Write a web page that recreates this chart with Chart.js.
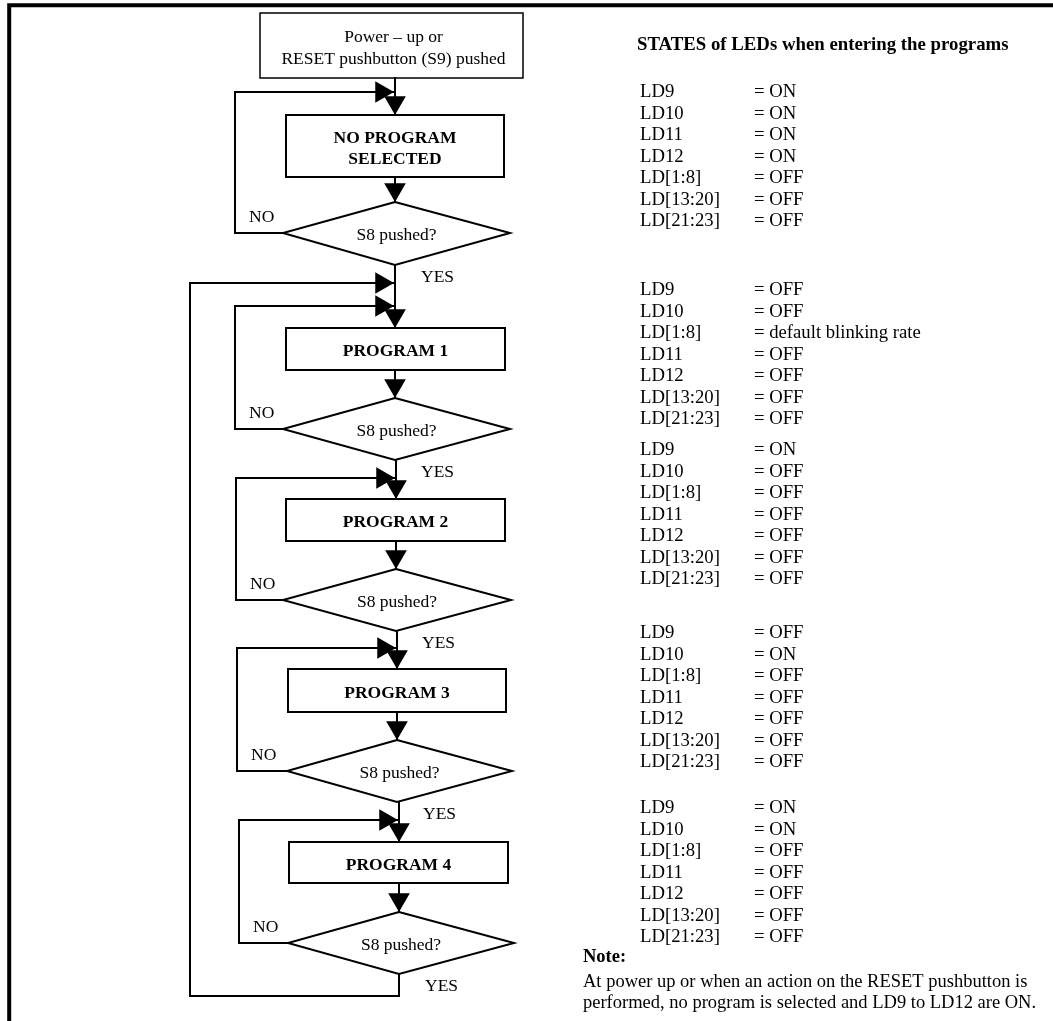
<!DOCTYPE html>
<html>
<head>
<meta charset="utf-8">
<script src="https://cdn.jsdelivr.net/npm/chart.js@4.4.1/dist/chart.umd.min.js"></script>
<style>
  html, body { margin: 0; padding: 0; background: #fff; overflow: hidden; }
  canvas { display: block; }
</style>
</head>
<body>
<canvas id="flowChart" width="1053" height="1021"></canvas>
<script>
// ── Textos ──────────────────────────────────────────────────────────────────
const startLines = ['Power \u2013 up or', 'RESET pushbutton (S9) pushed'];
const stepLabels = [['NO PROGRAM', 'SELECTED'], ['PROGRAM 1'], ['PROGRAM 2'], ['PROGRAM 3'], ['PROGRAM 4']];
const questionLabel = 'S8 pushed?';
const tableTitle = 'STATES of LEDs when entering the programs';

// Estados dos LEDs ao entrar em cada programa
const ledNamesNoProgram = ['LD9', 'LD10', 'LD11', 'LD12', 'LD[1:8]', 'LD[13:20]', 'LD[21:23]'];
const ledNamesProgram   = ['LD9', 'LD10', 'LD[1:8]', 'LD11', 'LD12', 'LD[13:20]', 'LD[21:23]'];
const statesNoProgram = ['ON', 'ON', 'ON', 'ON', 'OFF', 'OFF', 'OFF'];
const statesProgram1  = ['OFF', 'OFF', 'default blinking rate', 'OFF', 'OFF', 'OFF', 'OFF'];
const statesProgram2  = ['ON', 'OFF', 'OFF', 'OFF', 'OFF', 'OFF', 'OFF'];
const statesProgram3  = ['OFF', 'ON', 'OFF', 'OFF', 'OFF', 'OFF', 'OFF'];
const statesProgram4  = ['ON', 'ON', 'OFF', 'OFF', 'OFF', 'OFF', 'OFF'];

const noteTitle = 'Note:';
const noteLines = [
  'At power up or when an action on the RESET pushbutton is',
  'performed, no program is selected and LD9 to LD12 are ON.',
];

// ── Geometria (unidades = pixels da figura) ────────────────────────────────
const W = 1053, H = 1021;
const colX     = [395, 395, 396, 397, 399];   // eixo vertical de cada etapa
const boxLeft  = [286, 286, 286, 288, 289];
const boxRight = [504, 505, 505, 506, 508];
const boxTop   = [115, 328, 499, 669, 842];
const boxBot   = [177, 370, 541, 712, 883];
const dTop     = [202, 398, 569, 740, 912];
const dMid     = [233, 429, 600, 771, 943];
const dBot     = [265, 460, 631, 802, 974];
const dLeft    = [283, 283, 283, 287, 288];
const dRight   = [510, 510, 511, 512, 514];
const loopX    = [235, 235, 236, 237, 239];
const loopY    = [92, 306, 478, 648, 820];
const startBox = { l: 260, r: 523, t: 13, b: 78 };
const outerLoop = { x: 190, y: 283, bottom: 996 };

const tableX = { title: 637, name: 640, value: 754, note: 583 };
const blockBaseY = [97, 295, 455, 638, 813];
const ROW_STEP = 21.5;

const ARROW_R = 12.5;
const SERIF = '"Liberation Serif", "Times New Roman", serif';

// ── Montagem dos datasets ──────────────────────────────────────────────────

function line(points, width = 2) {
  return {
    type: 'scatter',
    data: points.map(([x, y]) => ({ x, y })),
    showLine: true,
    borderColor: '#000',
    borderWidth: width,
    borderJoinStyle: 'miter',
    borderCapStyle: 'square',
    pointRadius: 0,
    tension: 0,
    clip: false,
  };
}

const datasets = [];
const arrowsDown = [];
const arrowsRight = [];

// moldura (topo e lado esquerdo)
datasets.push(line([[9.2, H + 5], [9.2, 5.3], [W + 5, 5.3]], 4));

// caixa inicial
datasets.push(line([
  [startBox.l, startBox.t], [startBox.r, startBox.t], [startBox.r, startBox.b],
  [startBox.l, startBox.b], [startBox.l, startBox.t],
], 1.5));

// início → NO PROGRAM
datasets.push(line([[colX[0], startBox.b], [colX[0], boxTop[0]]]));
arrowsDown.push([colX[0], boxTop[0]]);

stepLabels.forEach((_, i) => {
  const cx = colX[i];
  // caixa da etapa
  datasets.push(line([
    [boxLeft[i], boxTop[i]], [boxRight[i], boxTop[i]], [boxRight[i], boxBot[i]],
    [boxLeft[i], boxBot[i]], [boxLeft[i], boxTop[i]],
  ]));
  // losango de decisão
  datasets.push(line([
    [cx, dTop[i]], [dRight[i], dMid[i]], [cx, dBot[i]], [dLeft[i], dMid[i]], [cx, dTop[i]],
  ]));
  // caixa → losango
  datasets.push(line([[cx, boxBot[i]], [cx, dTop[i]]]));
  arrowsDown.push([cx, dTop[i]]);
  // laço NO
  datasets.push(line([
    [dLeft[i], dMid[i]], [loopX[i], dMid[i]], [loopX[i], loopY[i]], [cx, loopY[i]],
  ]));
  arrowsRight.push([cx - 1, loopY[i]]);
  // YES → próxima etapa
  if (i < stepLabels.length - 1) {
    const nx = colX[i + 1];
    datasets.push(line([[nx, dBot[i]], [nx, boxTop[i + 1]]]));
    arrowsDown.push([nx, boxTop[i + 1]]);
  }
});

// laço externo: PROGRAM 4 → PROGRAM 1
const last = stepLabels.length - 1;
datasets.push(line([
  [colX[last], dBot[last]], [colX[last], outerLoop.bottom], [outerLoop.x, outerLoop.bottom],
  [outerLoop.x, outerLoop.y], [colX[1], outerLoop.y],
]));
arrowsRight.push([colX[1] - 1, outerLoop.y]);

// pontas de seta (triângulos do próprio Chart.js)
function arrowSet(tips, rotation, dx, dy) {
  return {
    type: 'scatter',
    data: tips.map(([x, y]) => ({ x: x + dx, y: y + dy })),
    pointStyle: 'triangle',
    pointRotation: rotation,
    pointRadius: ARROW_R,
    pointBackgroundColor: '#000',
    pointBorderWidth: 0,
    showLine: false,
    clip: false,
  };
}
datasets.push(arrowSet(arrowsDown, 180, 0, -ARROW_R));
datasets.push(arrowSet(arrowsRight, 90, -ARROW_R, 0));

// ── Textos via plugin ──────────────────────────────────────────────────────

function drawText(chart, str, x, y, { size = 17.5, bold = false, align = 'center' } = {}) {
  const { ctx, scales } = chart;
  ctx.save();
  ctx.font = `${bold ? 'bold ' : ''}${size}px ${SERIF}`;
  ctx.fillStyle = '#000';
  ctx.textAlign = align;
  ctx.textBaseline = 'alphabetic';
  ctx.fillText(str, scales.x.getPixelForValue(x), scales.y.getPixelForValue(y));
  ctx.restore();
}

const textPlugin = {
  id: 'flowText',
  afterDatasetsDraw(chart) {
    const cx0 = (startBox.l + startBox.r) / 2 + 2;
    drawText(chart, startLines[0], cx0, 42);
    drawText(chart, startLines[1], cx0, 64);

    stepLabels.forEach((lines, i) => {
      const mid = (boxTop[i] + boxBot[i]) / 2;
      const cx = (boxLeft[i] + boxRight[i]) / 2;
      if (lines.length === 2) {
        drawText(chart, lines[0], cx, mid - 3, { bold: true });
        drawText(chart, lines[1], cx, mid + 18, { bold: true });
      } else {
        drawText(chart, lines[0], cx, mid + 7, { bold: true });
      }
      drawText(chart, questionLabel, (dLeft[i] + dRight[i]) / 2, dMid[i] + 7);
      drawText(chart, 'NO', loopX[i] + 14, dMid[i] - 11, { align: 'left' });
      drawText(chart, 'YES', colX[i] + 26, dBot[i] + 17, { align: 'left' });
    });

    drawText(chart, tableTitle, tableX.title, 50, { size: 18.8, bold: true, align: 'left' });

    const blocks = [
      [ledNamesNoProgram, statesNoProgram],
      [ledNamesProgram, statesProgram1],
      [ledNamesProgram, statesProgram2],
      [ledNamesProgram, statesProgram3],
      [ledNamesProgram, statesProgram4],
    ];
    blocks.forEach(([names, states], b) => {
      names.forEach((name, r) => {
        const y = blockBaseY[b] + r * ROW_STEP;
        drawText(chart, name, tableX.name, y, { size: 18.7, align: 'left' });
        drawText(chart, '= ' + states[r], tableX.value, y, { size: 18.7, align: 'left' });
      });
    });

    drawText(chart, noteTitle, tableX.note, 962, { size: 18.5, bold: true, align: 'left' });
    drawText(chart, noteLines[0], tableX.note, 987, { size: 18.5, align: 'left' });
    drawText(chart, noteLines[1], tableX.note, 1008, { size: 18.5, align: 'left' });
  },
};

new Chart(document.getElementById('flowChart'), {
  type: 'scatter',
  data: { datasets },
  options: {
    responsive: false,
    animation: false,
    events: [],
    layout: { padding: 0, autoPadding: false },
    plugins: { legend: { display: false }, tooltip: { enabled: false } },
    scales: {
      x: { type: 'linear', min: 0, max: W, display: false },
      y: { type: 'linear', min: 0, max: H, reverse: true, display: false },
    },
  },
  plugins: [textPlugin],
});
</script>
</body>
</html>
